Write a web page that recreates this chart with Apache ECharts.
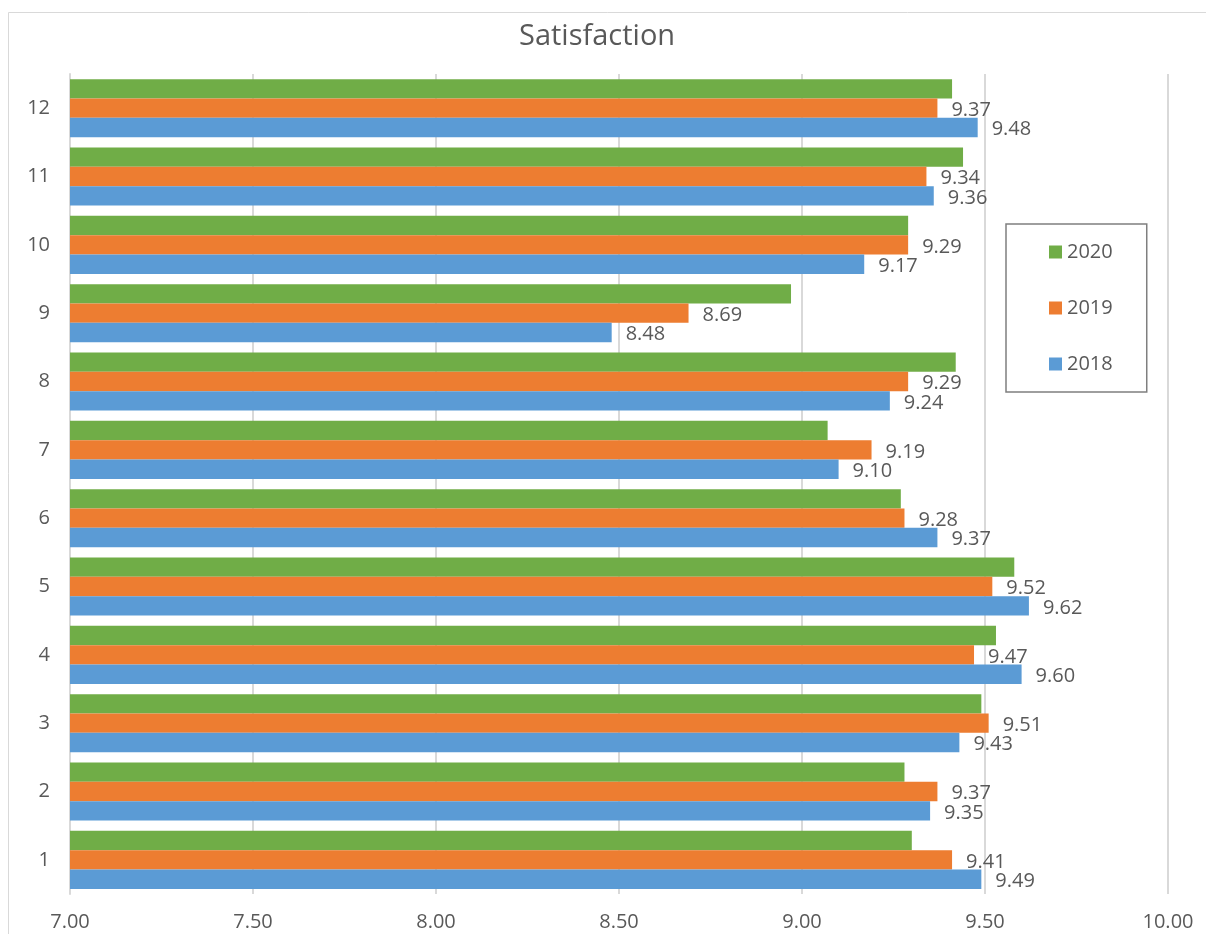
<!DOCTYPE html>
<html>
<head>
<meta charset="utf-8">
<script src="https://cdn.jsdelivr.net/npm/echarts@6/dist/echarts.min.js"></script>
<style>
html,body{margin:0;padding:0;background:#fff;}
#chart{width:1206px;height:934px;}
</style>
</head>
<body>
<div id="chart"></div>
<script>
var categories = ['1','2','3','4','5','6','7','8','9','10','11','12'];
var values2018 = [9.49, 9.35, 9.43, 9.60, 9.62, 9.37, 9.10, 9.24, 8.48, 9.17, 9.36, 9.48];
var values2019 = [9.41, 9.37, 9.51, 9.47, 9.52, 9.28, 9.19, 9.29, 8.69, 9.29, 9.34, 9.37];
var values2020 = [9.30, 9.28, 9.49, 9.53, 9.58, 9.27, 9.07, 9.42, 8.97, 9.29, 9.44, 9.41];
var xTicks = [7.0, 7.5, 8.0, 8.5, 9.0, 9.5, 10.0];

var FONT = '"Open Sans", "Noto Sans", sans-serif';
var TXT = '#595959';

var chart = echarts.init(document.getElementById('chart'), null, {renderer: 'canvas'});

var labelCfg = {
  show: true,
  position: 'right',
  distance: 14,
  offset: [0, 2],
  color: TXT,
  fontFamily: FONT,
  fontSize: 20,
  formatter: function (p) { return p.value.toFixed(2); }
};

chart.setOption({
  backgroundColor: '#ffffff',
  animation: false,
  graphic: [{
    type: 'polyline',
    shape: {points: [[8.5, 940], [8.5, 12.5], [1210, 12.5]]},
    style: {fill: null, stroke: '#d9d9d9', lineWidth: 1},
    silent: true,
    z: -10
  }],
  title: {
    text: 'Satisfaction',
    left: 519,
    top: 22,
    padding: 0,
    textStyle: {color: TXT, fontFamily: FONT, fontSize: 29, fontWeight: 'normal'}
  },
  legend: {
    data: ['2020', '2019', '2018'],
    orient: 'vertical',
    left: 1006,
    top: 224,
    padding: [18, 34, 18, 43],
    itemGap: 36,
    itemWidth: 13,
    itemHeight: 13,
    icon: 'rect',
    borderColor: '#7f7f7f',
    borderWidth: 1.5,
    textStyle: {color: TXT, fontFamily: FONT, fontSize: 20, lineHeight: 20}
  },
  grid: {left: 70, right: 38, top: 74, bottom: 40, containLabel: false},
  xAxis: {
    type: 'value',
    min: xTicks[0],
    max: xTicks[xTicks.length - 1],
    interval: 0.5,
    axisLine: {show: false},
    axisTick: {show: false},
    splitLine: {show: true, lineStyle: {color: '#d9d9d9', width: 2}},
    axisLabel: {
      color: TXT, fontFamily: FONT, fontSize: 20, margin: 18,
      formatter: function (v) { return v.toFixed(2); }
    }
  },
  yAxis: {
    type: 'category',
    data: categories,
    axisLine: {show: true, lineStyle: {color: '#d9d9d9', width: 2}},
    axisTick: {show: false},
    axisLabel: {color: TXT, fontFamily: FONT, fontSize: 20, margin: 20}
  },
  series: [
    {
      name: '2020', type: 'bar', data: values2020,
      itemStyle: {color: '#70AD47'},
      barGap: '0%', barCategoryGap: '15%'
    },
    {
      name: '2019', type: 'bar', data: values2019,
      itemStyle: {color: '#ED7D31'},
      barGap: '0%', barCategoryGap: '15%',
      label: labelCfg
    },
    {
      name: '2018', type: 'bar', data: values2018,
      itemStyle: {color: '#5B9BD5'},
      barGap: '0%', barCategoryGap: '15%',
      label: labelCfg
    }
  ]
});
</script>
</body>
</html>
